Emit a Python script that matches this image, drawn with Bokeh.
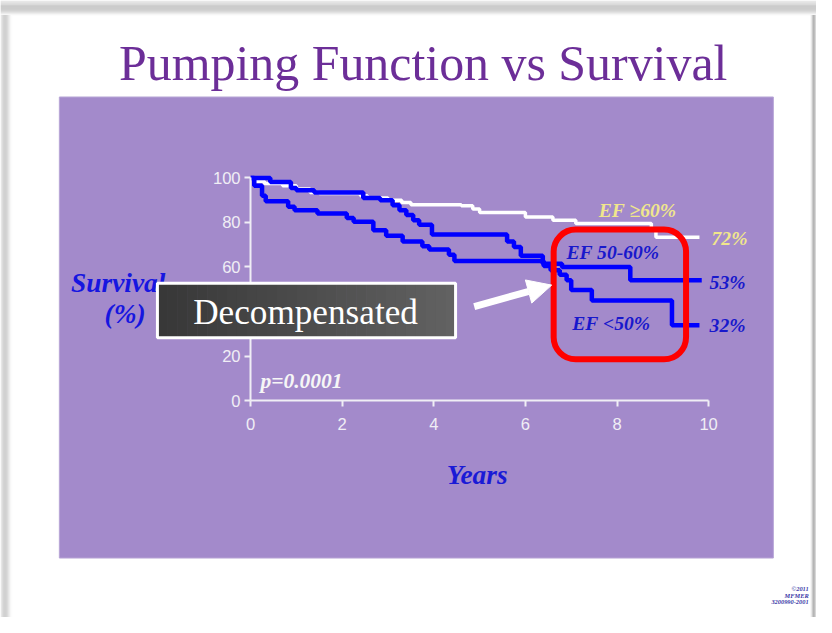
import numpy as np
from bokeh.plotting import figure
from bokeh.models import Range1d, FixedTicker, Label, BoxAnnotation, Arrow, NormalHead
from bokeh.embed import file_html
from bokeh.resources import INLINE

# ---------------- data ----------------
x_ticks = [0, 2, 4, 6, 8, 10]
y_ticks = [0, 20, 40, 60, 80, 100]

# EF >= 60%  (white)
ef60_years = [0, 0.08, 0.3, 0.7, 1.0, 1.3, 1.5, 2.4, 2.55, 3.0, 3.3, 3.5, 4.6, 4.85, 5.0,
              6.0, 6.6, 7.1, 8.75, 8.85, 9.8]
ef60_surv = [100, 98.5, 97.5, 96.5, 95, 93.5, 93, 92, 91, 90, 89, 88, 87.5, 86, 84.5,
             82.5, 81, 79.5, 77, 73.3, 73.3]

# EF 50-60%  (blue, upper)
ef5060_years = [0, 0.43, 0.88, 1.0, 1.39, 2.46, 2.83, 3.1, 3.25, 3.4, 3.55, 3.68, 3.96,
                5.6, 5.75, 5.9, 6.38, 6.8, 8.29, 9.85]
ef5060_surv = [100, 98.2, 95.5, 94.5, 93.4, 91, 90, 87.7, 85.5, 83.3, 81, 79, 74.6,
               71.5, 69, 65, 61.5, 60, 54, 54]

# EF < 50%  (blue, lower)
ef50_years = [0, 0.08, 0.25, 0.33, 0.82, 0.96, 1.46, 2.1, 2.25, 2.68, 2.96, 3.32, 3.75,
              3.9, 4.33, 4.45, 6.4, 6.55, 6.75, 6.9, 7.0, 7.45, 9.2, 9.8]
ef50_surv = [100, 96.5, 92, 89.5, 87, 85.5, 84, 82, 80.3, 76.5, 74, 71.5, 69.3,
             67.8, 65.5, 62.7, 60.5, 58.5, 56.5, 54, 49.7, 45, 33.8, 33.8]

group_names = ["EF \u226560%", "EF 50-60%", "EF <50%"]
end_labels = ["72%", "53%", "32%"]

# ---------------- reference-pixel helpers (decoration placement) ----------------
REF_W, REF_H = 832, 633
W, H = 816, 617
FS = 0.978                 # font scale (canvas / reference)
X0, PXX = 255.0, 46.7      # ref px of year 0, px per year
Y0, PXY = 410.5, 2.285     # ref px of 0 %, px per %


def dx(px):
    return (px - X0) / PXX


def dy(py):
    return (Y0 - py) / PXY


def fsz(size):
    return "%.1fpx" % (size * FS)


def base(py, size):
    # bokeh's alphabetic baseline sits ~0.31em lower than requested
    return dy(py - 0.31 * size)


p = figure(width=W, height=H, x_range=Range1d(dx(0), dx(REF_W)),
           y_range=Range1d(dy(REF_H), dy(0)), toolbar_location=None,
           output_backend="svg", min_border=0, background_fill_color="white",
           border_fill_color="white", outline_line_color=None)
p.grid.visible = False

# slide drop shadow (top, left, right)
top_cols = ["#e4e4e4", "#dedede", "#d8d8d8", "#d2d2d2", "#cccccc", "#c7c7c7", "#c3c3c3",
            "#c0c0c0", "#c0c0c0", "#c3c3c3", "#c8c8c8", "#d0d0d0", "#dcdcdc", "#e8e8e8",
            "#f4f4f4"]
for i, c in enumerate(top_cols):
    p.quad(left=dx(0), right=dx(REF_W), top=dy(i), bottom=dy(i + 1.05),
           fill_color=c, line_color=None)
left_cols = ["#e6e6e6", "#dadada", "#cecece", "#c6c6c6", "#c2c2c2", "#c4c4c4", "#cacaca",
             "#d4d4d4", "#e0e0e0", "#ececec", "#f6f6f6", "#fcfcfc"]
for i, c in enumerate(left_cols):
    p.quad(left=dx(i), right=dx(i + 1.05), top=dy(15), bottom=dy(REF_H),
           fill_color=c, line_color=None)
right_cols = ["#ededed", "#d6d6d6", "#a8a8a8", "#9a9a9a", "#b8b8b8", "#d8d8d8"]
for i, c in enumerate(right_cols):
    p.quad(left=dx(826 + i), right=dx(827.05 + i), top=dy(15), bottom=dy(REF_H),
           fill_color=c, line_color=None)

# purple panel
p.quad(left=dx(60), right=dx(788), top=dy(99), bottom=dy(572),
       fill_color="#A38ACB", line_color="#b8a6d6", line_width=1)

# curves
p.step(x=ef60_years, y=ef60_surv, mode="after", line_color="white", line_width=3.5)
p.step(x=ef5060_years, y=ef5060_surv, mode="after", line_color="#0000FF", line_width=4.5)
p.step(x=ef50_years, y=ef50_surv, mode="after", line_color="#0000FF", line_width=4.5)

# axes
axc = "#f0eef5"
for ax, ticks, bnd in ((p.xaxis, x_ticks, (0, 10)), (p.yaxis, y_ticks, (0, 100))):
    ax.fixed_location = 0
    ax.bounds = bnd
    ax.ticker = FixedTicker(ticks=ticks)
    ax.axis_line_color = axc
    ax.axis_line_width = 2
    ax.major_tick_line_color = axc
    ax.major_tick_line_width = 2
    ax.major_tick_out = 6
    ax.major_tick_in = 0
    ax.minor_tick_line_color = None
    ax.major_label_text_color = axc
    ax.major_label_text_font = "Liberation Sans"
    ax.major_label_text_font_size = fsz(17)
p.xaxis.major_label_standoff = 11
p.yaxis.major_label_standoff = 4


def label(text, px, py, size, color, style="normal", align="left", level="annotation"):
    p.add_layout(Label(x=dx(px), y=base(py, size), text=text, text_align=align,
                       text_baseline="alphabetic", text_font="Liberation Serif",
                       text_font_style=style, text_font_size=fsz(size),
                       text_color=color, level=level))


# title
label("Pumping Function vs Survival", 431, 80, 51, "#6C2E98", align="center")

# axis titles
ylab_col = "#1616E0"
label("Survival", 120, 299, 28, ylab_col, "bold italic", "center")
label("(%)", 127, 330, 28, ylab_col, "bold italic", "center")
label("Years", 486, 495, 28, "#1a1ad6", "bold italic", "center")

# p-value
label("p=0.0001", 265, 397, 22, "#f6f6f6", "bold italic")

# series labels
yel = "#F0E68C"
blu = "#1818CC"
lab_specs = [
    (group_names[0], 610, 222, yel), (end_labels[0], 725, 250, yel),
    (group_names[1], 577, 265, blu), (end_labels[1], 723, 296, blu),
    (group_names[2], 583, 338, blu), (end_labels[2], 723, 340, blu),
]
for t, lx, ly, c in lab_specs:
    label(t, lx, ly, 20, c, "bold italic")

# red rounded box
p.add_layout(BoxAnnotation(left=dx(564), right=dx(699), top=dy(235), bottom=dy(368),
                           fill_color=None, fill_alpha=0, line_color="#FF0000",
                           line_width=6, line_alpha=1, border_radius=22))

# arrow
p.add_layout(Arrow(x_start=dx(483), y_start=dy(314), x_end=dx(562), y_end=dy(292),
                   line_color="white", line_width=7,
                   end=NormalHead(size=24, fill_color="white", line_color="white")))

# Decompensated box (gradient by strips), drawn above the y label and axis
bl, br, bt, bb = 160, 464, 290, 346
n = 30
for i in range(n):
    f = i / (n - 1)
    g = int(56 + f * (98 - 56))
    col = "#%02x%02x%02x" % (g, g, g)
    x1 = bl + (br - bl) * i / n
    x2 = bl + (br - bl) * (i + 1) / n + 0.6
    p.quad(left=dx(x1), right=dx(x2), top=dy(bt), bottom=dy(bb), fill_color=col,
           line_color=None, level="overlay")
p.quad(left=dx(bl), right=dx(br), top=dy(bt), bottom=dy(bb), fill_color=None,
       line_color="white", line_width=3, level="overlay")
label("Decompensated", 311, 331, 36, "white", align="center", level="overlay")

# footer (small, kept inside the canvas)
for i, t in enumerate(["\u00a92011", "MFMER", "3200990-2001"]):
    label(t, 824, 605 + 7 * i, 6.5, "#3a3aa8", "bold italic", "right")

open("out.html", "w").write(file_html(p, INLINE))
